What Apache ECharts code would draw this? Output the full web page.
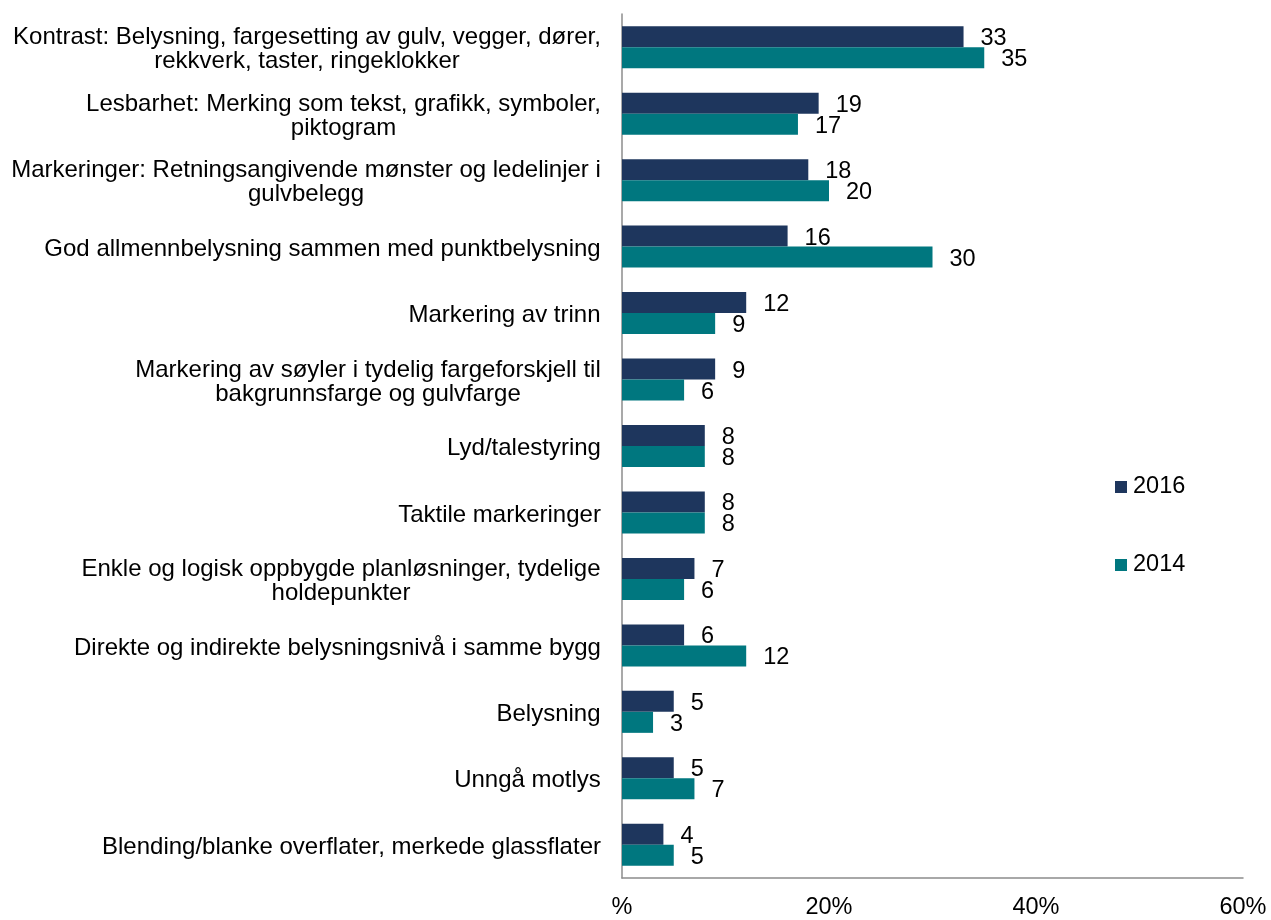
<!DOCTYPE html>
<html>
<head>
<meta charset="utf-8">
<script src="https://cdn.jsdelivr.net/npm/echarts@6/dist/echarts.min.js"></script>
<style>
  html, body { margin: 0; padding: 0; background: #fff; }
  #chart { width: 1271px; height: 920px; }
</style>
</head>
<body>
<div id="chart"></div>
<script>
// kategorier, ovenfra og ned
var categories = [
  "Kontrast: Belysning, fargesetting av gulv, vegger, dører,\nrekkverk, taster, ringeklokker",
  "Lesbarhet: Merking som tekst, grafikk, symboler,\npiktogram",
  "Markeringer: Retningsangivende mønster og ledelinjer i\ngulvbelegg",
  "God allmennbelysning sammen med punktbelysning",
  "Markering av trinn",
  "Markering av søyler i tydelig fargeforskjell til\nbakgrunnsfarge og gulvfarge",
  "Lyd/talestyring",
  "Taktile markeringer",
  "Enkle og logisk oppbygde planløsninger, tydelige\nholdepunkter",
  "Direkte og indirekte belysningsnivå i samme bygg",
  "Belysning",
  "Unngå motlys",
  "Blending/blanke overflater, merkede glassflater"
];
var values2016 = [33, 19, 18, 16, 12, 9, 8, 8, 7, 6, 5, 5, 4];
var values2014 = [35, 17, 20, 30, 9, 6, 8, 8, 6, 12, 3, 7, 5];

var font = "Liberation Sans, Arial, sans-serif";
var labelSize = 24;

// linjene i hver etikett sentreres under hverandre, blokken står høyrejustert
var ctx = document.createElement("canvas").getContext("2d");
ctx.font = labelSize + "px " + font;
var rich = {};
categories.forEach(function (c, i) {
  var w = 0;
  c.split("\n").forEach(function (l) { w = Math.max(w, ctx.measureText(l).width); });
  rich["c" + i] = {
    width: Math.ceil(w),
    align: "center",
    fontSize: labelSize,
    lineHeight: 24,
    color: "#000",
    fontFamily: font
  };
});

var chart = echarts.init(document.getElementById("chart"));

var option = {
  backgroundColor: "#fff",
  textStyle: { fontFamily: font },
  grid: { left: 622, right: 28, top: 14, bottom: 39, containLabel: false },
  legend: {
    orient: "vertical",
    left: 1110,
    top: 470,
    itemGap: 54,
    itemWidth: 12,
    itemHeight: 12,
    icon: "rect",
    textStyle: { fontSize: 23.5, color: "#000", fontFamily: font, padding: [0, 0, 0, 1] },
    data: ["2016", "2014"]
  },
  xAxis: {
    type: "value",
    min: 0,
    max: 60,
    interval: 20,
    axisLine: { show: true, lineStyle: { color: "#8c8c8c", width: 1.5 } },
    axisTick: { show: false },
    splitLine: { show: false },
    axisLabel: {
      fontSize: 23.5,
      color: "#000",
      fontFamily: font,
      margin: 18,
      formatter: function (v) { return v === 0 ? "%" : v + "%"; }
    }
  },
  yAxis: {
    type: "category",
    inverse: true,
    data: categories,
    axisLine: { show: true, lineStyle: { color: "#8c8c8c", width: 1.5 } },
    axisTick: { show: false },
    axisLabel: {
      fontSize: labelSize,
      color: "#000",
      fontFamily: font,
      margin: 21,
      lineHeight: 24,
      align: "right",
      padding: [5, 0, 0, 0],
      rich: rich,
      formatter: function (value, index) {
        return value.split("\n").map(function (l) {
          return "{c" + index + "|" + l + "}";
        }).join("\n");
      }
    }
  },
  series: [
    {
      name: "2016",
      type: "bar",
      data: values2016,
      barWidth: 21,
      barGap: "0%",
      itemStyle: { color: "#1e365d" },
      label: { show: true, position: "right", distance: 17, offset: [0, 2], fontSize: 23.5, color: "#000", fontFamily: font }
    },
    {
      name: "2014",
      type: "bar",
      data: values2014,
      barWidth: 21,
      barGap: "0%",
      itemStyle: { color: "#00777f" },
      label: { show: true, position: "right", distance: 17, offset: [0, 2], fontSize: 23.5, color: "#000", fontFamily: font }
    }
  ]
};

chart.setOption(option);
</script>
</body>
</html>
